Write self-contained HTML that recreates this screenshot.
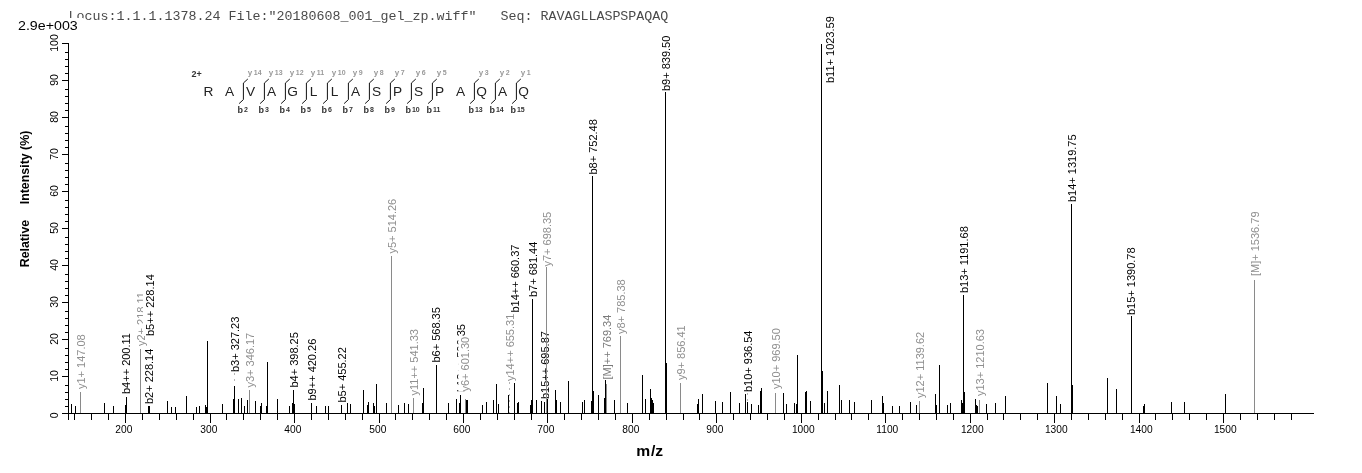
<!DOCTYPE html><html><head><meta charset="utf-8"><style>html,body{margin:0;padding:0;background:#fff;}svg{display:block;filter:grayscale(100%);}text{font-family:"Liberation Sans",sans-serif;}</style></head><body>
<svg width="1362" height="473" viewBox="0 0 1362 473">
<rect width="1362" height="473" fill="#fff"/>
<text x="68.5" y="20.4" style="font-family:'Liberation Mono',monospace;font-size:13.33px;white-space:pre" fill="#4a4a4a">Locus:1.1.1.1378.24 File:&quot;20180608_001_gel_zp.wiff&quot;   Seq: RAVAGLLASPSPAQAQ</text>
<rect x="15" y="18" width="68" height="14" fill="#fff"/>
<text x="18" y="29.8" font-size="12" textLength="59.7" lengthAdjust="spacingAndGlyphs" fill="#000">2.9e+003</text>
<g shape-rendering="crispEdges" stroke="#000" stroke-width="1" fill="none">
<line x1="68.5" y1="43" x2="68.5" y2="419.5"/>
<line x1="62" y1="413.5" x2="1314" y2="413.5"/>
<line x1="62" y1="413.5" x2="68" y2="413.5"/>
<line x1="65" y1="406.5" x2="68" y2="406.5"/>
<line x1="65" y1="399.5" x2="68" y2="399.5"/>
<line x1="65" y1="392.5" x2="68" y2="392.5"/>
<line x1="65" y1="385.5" x2="68" y2="385.5"/>
<line x1="62" y1="376.5" x2="68" y2="376.5"/>
<line x1="65" y1="369.5" x2="68" y2="369.5"/>
<line x1="65" y1="362.5" x2="68" y2="362.5"/>
<line x1="65" y1="355.5" x2="68" y2="355.5"/>
<line x1="65" y1="348.5" x2="68" y2="348.5"/>
<line x1="62" y1="339.5" x2="68" y2="339.5"/>
<line x1="65" y1="332.5" x2="68" y2="332.5"/>
<line x1="65" y1="325.5" x2="68" y2="325.5"/>
<line x1="65" y1="318.5" x2="68" y2="318.5"/>
<line x1="65" y1="311.5" x2="68" y2="311.5"/>
<line x1="62" y1="302.5" x2="68" y2="302.5"/>
<line x1="65" y1="295.5" x2="68" y2="295.5"/>
<line x1="65" y1="288.5" x2="68" y2="288.5"/>
<line x1="65" y1="281.5" x2="68" y2="281.5"/>
<line x1="65" y1="274.5" x2="68" y2="274.5"/>
<line x1="62" y1="265.5" x2="68" y2="265.5"/>
<line x1="65" y1="258.5" x2="68" y2="258.5"/>
<line x1="65" y1="251.5" x2="68" y2="251.5"/>
<line x1="65" y1="244.5" x2="68" y2="244.5"/>
<line x1="65" y1="237.5" x2="68" y2="237.5"/>
<line x1="62" y1="228.5" x2="68" y2="228.5"/>
<line x1="65" y1="221.5" x2="68" y2="221.5"/>
<line x1="65" y1="214.5" x2="68" y2="214.5"/>
<line x1="65" y1="207.5" x2="68" y2="207.5"/>
<line x1="65" y1="200.5" x2="68" y2="200.5"/>
<line x1="62" y1="191.5" x2="68" y2="191.5"/>
<line x1="65" y1="184.5" x2="68" y2="184.5"/>
<line x1="65" y1="177.5" x2="68" y2="177.5"/>
<line x1="65" y1="170.5" x2="68" y2="170.5"/>
<line x1="65" y1="163.5" x2="68" y2="163.5"/>
<line x1="62" y1="154.5" x2="68" y2="154.5"/>
<line x1="65" y1="147.5" x2="68" y2="147.5"/>
<line x1="65" y1="140.5" x2="68" y2="140.5"/>
<line x1="65" y1="133.5" x2="68" y2="133.5"/>
<line x1="65" y1="126.5" x2="68" y2="126.5"/>
<line x1="62" y1="117.5" x2="68" y2="117.5"/>
<line x1="65" y1="110.5" x2="68" y2="110.5"/>
<line x1="65" y1="103.5" x2="68" y2="103.5"/>
<line x1="65" y1="96.5" x2="68" y2="96.5"/>
<line x1="65" y1="89.5" x2="68" y2="89.5"/>
<line x1="62" y1="80.5" x2="68" y2="80.5"/>
<line x1="65" y1="73.5" x2="68" y2="73.5"/>
<line x1="65" y1="66.5" x2="68" y2="66.5"/>
<line x1="65" y1="59.5" x2="68" y2="59.5"/>
<line x1="65" y1="52.5" x2="68" y2="52.5"/>
<line x1="62" y1="43.5" x2="68" y2="43.5"/>
<line x1="74.5" y1="413" x2="74.5" y2="419.5"/>
<line x1="91.5" y1="413" x2="91.5" y2="419.5"/>
<line x1="108.5" y1="413" x2="108.5" y2="419.5"/>
<line x1="125.5" y1="413" x2="125.5" y2="422.5"/>
<line x1="142.5" y1="413" x2="142.5" y2="419.5"/>
<line x1="159.5" y1="413" x2="159.5" y2="419.5"/>
<line x1="176.5" y1="413" x2="176.5" y2="419.5"/>
<line x1="193.5" y1="413" x2="193.5" y2="419.5"/>
<line x1="210.5" y1="413" x2="210.5" y2="422.5"/>
<line x1="226.5" y1="413" x2="226.5" y2="419.5"/>
<line x1="243.5" y1="413" x2="243.5" y2="419.5"/>
<line x1="260.5" y1="413" x2="260.5" y2="419.5"/>
<line x1="277.5" y1="413" x2="277.5" y2="419.5"/>
<line x1="294.5" y1="413" x2="294.5" y2="422.5"/>
<line x1="311.5" y1="413" x2="311.5" y2="419.5"/>
<line x1="328.5" y1="413" x2="328.5" y2="419.5"/>
<line x1="345.5" y1="413" x2="345.5" y2="419.5"/>
<line x1="362.5" y1="413" x2="362.5" y2="419.5"/>
<line x1="379.5" y1="413" x2="379.5" y2="422.5"/>
<line x1="395.5" y1="413" x2="395.5" y2="419.5"/>
<line x1="412.5" y1="413" x2="412.5" y2="419.5"/>
<line x1="429.5" y1="413" x2="429.5" y2="419.5"/>
<line x1="446.5" y1="413" x2="446.5" y2="419.5"/>
<line x1="463.5" y1="413" x2="463.5" y2="422.5"/>
<line x1="480.5" y1="413" x2="480.5" y2="419.5"/>
<line x1="497.5" y1="413" x2="497.5" y2="419.5"/>
<line x1="514.5" y1="413" x2="514.5" y2="419.5"/>
<line x1="531.5" y1="413" x2="531.5" y2="419.5"/>
<line x1="547.5" y1="413" x2="547.5" y2="422.5"/>
<line x1="564.5" y1="413" x2="564.5" y2="419.5"/>
<line x1="581.5" y1="413" x2="581.5" y2="419.5"/>
<line x1="598.5" y1="413" x2="598.5" y2="419.5"/>
<line x1="615.5" y1="413" x2="615.5" y2="419.5"/>
<line x1="632.5" y1="413" x2="632.5" y2="422.5"/>
<line x1="649.5" y1="413" x2="649.5" y2="419.5"/>
<line x1="666.5" y1="413" x2="666.5" y2="419.5"/>
<line x1="683.5" y1="413" x2="683.5" y2="419.5"/>
<line x1="699.5" y1="413" x2="699.5" y2="419.5"/>
<line x1="716.5" y1="413" x2="716.5" y2="422.5"/>
<line x1="733.5" y1="413" x2="733.5" y2="419.5"/>
<line x1="750.5" y1="413" x2="750.5" y2="419.5"/>
<line x1="767.5" y1="413" x2="767.5" y2="419.5"/>
<line x1="784.5" y1="413" x2="784.5" y2="419.5"/>
<line x1="801.5" y1="413" x2="801.5" y2="422.5"/>
<line x1="818.5" y1="413" x2="818.5" y2="419.5"/>
<line x1="835.5" y1="413" x2="835.5" y2="419.5"/>
<line x1="851.5" y1="413" x2="851.5" y2="419.5"/>
<line x1="868.5" y1="413" x2="868.5" y2="419.5"/>
<line x1="885.5" y1="413" x2="885.5" y2="422.5"/>
<line x1="902.5" y1="413" x2="902.5" y2="419.5"/>
<line x1="919.5" y1="413" x2="919.5" y2="419.5"/>
<line x1="936.5" y1="413" x2="936.5" y2="419.5"/>
<line x1="953.5" y1="413" x2="953.5" y2="419.5"/>
<line x1="970.5" y1="413" x2="970.5" y2="422.5"/>
<line x1="987.5" y1="413" x2="987.5" y2="419.5"/>
<line x1="1003.5" y1="413" x2="1003.5" y2="419.5"/>
<line x1="1020.5" y1="413" x2="1020.5" y2="419.5"/>
<line x1="1037.5" y1="413" x2="1037.5" y2="419.5"/>
<line x1="1054.5" y1="413" x2="1054.5" y2="422.5"/>
<line x1="1071.5" y1="413" x2="1071.5" y2="419.5"/>
<line x1="1088.5" y1="413" x2="1088.5" y2="419.5"/>
<line x1="1105.5" y1="413" x2="1105.5" y2="419.5"/>
<line x1="1122.5" y1="413" x2="1122.5" y2="419.5"/>
<line x1="1139.5" y1="413" x2="1139.5" y2="422.5"/>
<line x1="1155.5" y1="413" x2="1155.5" y2="419.5"/>
<line x1="1172.5" y1="413" x2="1172.5" y2="419.5"/>
<line x1="1189.5" y1="413" x2="1189.5" y2="419.5"/>
<line x1="1206.5" y1="413" x2="1206.5" y2="419.5"/>
<line x1="1223.5" y1="413" x2="1223.5" y2="422.5"/>
<line x1="1240.5" y1="413" x2="1240.5" y2="419.5"/>
<line x1="1257.5" y1="413" x2="1257.5" y2="419.5"/>
<line x1="1274.5" y1="413" x2="1274.5" y2="419.5"/>
<line x1="1291.5" y1="413" x2="1291.5" y2="419.5"/>
</g>
<text transform="translate(57.6,415.3) rotate(-90)" font-size="10.5" text-anchor="middle" fill="#000">0</text>
<text transform="translate(57.6,376.0) rotate(-90)" font-size="10.5" text-anchor="middle" fill="#000">10</text>
<text transform="translate(57.6,339.0) rotate(-90)" font-size="10.5" text-anchor="middle" fill="#000">20</text>
<text transform="translate(57.6,302.0) rotate(-90)" font-size="10.5" text-anchor="middle" fill="#000">30</text>
<text transform="translate(57.6,265.0) rotate(-90)" font-size="10.5" text-anchor="middle" fill="#000">40</text>
<text transform="translate(57.6,228.0) rotate(-90)" font-size="10.5" text-anchor="middle" fill="#000">50</text>
<text transform="translate(57.6,191.0) rotate(-90)" font-size="10.5" text-anchor="middle" fill="#000">60</text>
<text transform="translate(57.6,154.0) rotate(-90)" font-size="10.5" text-anchor="middle" fill="#000">70</text>
<text transform="translate(57.6,117.0) rotate(-90)" font-size="10.5" text-anchor="middle" fill="#000">80</text>
<text transform="translate(57.6,80.0) rotate(-90)" font-size="10.5" text-anchor="middle" fill="#000">90</text>
<text transform="translate(57.6,43.0) rotate(-90)" font-size="10.5" text-anchor="middle" fill="#000">100</text>
<text x="123.8" y="433.2" font-size="10.2" text-anchor="middle" fill="#000">200</text>
<text x="208.8" y="433.2" font-size="10.2" text-anchor="middle" fill="#000">300</text>
<text x="292.8" y="433.2" font-size="10.2" text-anchor="middle" fill="#000">400</text>
<text x="377.8" y="433.2" font-size="10.2" text-anchor="middle" fill="#000">500</text>
<text x="461.8" y="433.2" font-size="10.2" text-anchor="middle" fill="#000">600</text>
<text x="545.8" y="433.2" font-size="10.2" text-anchor="middle" fill="#000">700</text>
<text x="630.8" y="433.2" font-size="10.2" text-anchor="middle" fill="#000">800</text>
<text x="714.8" y="433.2" font-size="10.2" text-anchor="middle" fill="#000">900</text>
<text x="803.3" y="433.2" font-size="10.2" text-anchor="middle" fill="#000">1000</text>
<text x="887.3" y="433.2" font-size="10.2" text-anchor="middle" fill="#000">1100</text>
<text x="972.3" y="433.2" font-size="10.2" text-anchor="middle" fill="#000">1200</text>
<text x="1056.3" y="433.2" font-size="10.2" text-anchor="middle" fill="#000">1300</text>
<text x="1141.3" y="433.2" font-size="10.2" text-anchor="middle" fill="#000">1400</text>
<text x="1225.3" y="433.2" font-size="10.2" text-anchor="middle" fill="#000">1500</text>
<text transform="translate(636.2,456.2) scale(1.12,1)" font-size="14" font-weight="bold" fill="#000">m</text><text transform="translate(651,456.2) scale(1.12,1)" font-size="14" font-weight="bold" fill="#000">/z</text>
<text transform="translate(28.6,267.3) rotate(-90)" font-size="12.4" font-weight="bold" fill="#000">Relative</text>
<text transform="translate(28.6,130.6) rotate(-90)" font-size="12.4" font-weight="bold" text-anchor="end" fill="#000">Intensity (%)</text>
<g shape-rendering="crispEdges" stroke-width="1">
<line x1="71.5" y1="404.0" x2="71.5" y2="413" stroke="#000"/>
<line x1="75.5" y1="406.0" x2="75.5" y2="413" stroke="#000"/>
<line x1="104.5" y1="403.0" x2="104.5" y2="413" stroke="#000"/>
<line x1="113.5" y1="406.0" x2="113.5" y2="413" stroke="#000"/>
<line x1="125.5" y1="404.5" x2="125.5" y2="413" stroke="#000"/>
<line x1="167.5" y1="401.0" x2="167.5" y2="413" stroke="#000"/>
<line x1="171.5" y1="407.0" x2="171.5" y2="413" stroke="#000"/>
<line x1="175.5" y1="407.0" x2="175.5" y2="413" stroke="#000"/>
<line x1="186.5" y1="396.4" x2="186.5" y2="413" stroke="#000"/>
<line x1="196.5" y1="407.0" x2="196.5" y2="413" stroke="#000"/>
<line x1="199.5" y1="406.0" x2="199.5" y2="413" stroke="#000"/>
<line x1="205.5" y1="404.5" x2="205.5" y2="413" stroke="#000"/>
<line x1="206.5" y1="407.3" x2="206.5" y2="413" stroke="#000"/>
<line x1="207.5" y1="341.0" x2="207.5" y2="413" stroke="#000"/>
<line x1="222.5" y1="404.0" x2="222.5" y2="413" stroke="#000"/>
<line x1="233.5" y1="399.0" x2="233.5" y2="413" stroke="#000"/>
<line x1="238.5" y1="399.0" x2="238.5" y2="413" stroke="#000"/>
<line x1="241.5" y1="398.0" x2="241.5" y2="413" stroke="#000"/>
<line x1="244.5" y1="406.0" x2="244.5" y2="413" stroke="#000"/>
<line x1="247.5" y1="400.0" x2="247.5" y2="413" stroke="#000"/>
<line x1="255.5" y1="401.0" x2="255.5" y2="413" stroke="#000"/>
<line x1="260.5" y1="406.0" x2="260.5" y2="413" stroke="#000"/>
<line x1="261.5" y1="403.0" x2="261.5" y2="413" stroke="#000"/>
<line x1="266.5" y1="406.0" x2="266.5" y2="413" stroke="#000"/>
<line x1="267.5" y1="362.0" x2="267.5" y2="413" stroke="#000"/>
<line x1="277.5" y1="399.0" x2="277.5" y2="413" stroke="#000"/>
<line x1="289.5" y1="406.0" x2="289.5" y2="413" stroke="#000"/>
<line x1="292.5" y1="402.7" x2="292.5" y2="413" stroke="#000"/>
<line x1="294.5" y1="404.0" x2="294.5" y2="413" stroke="#000"/>
<line x1="316.5" y1="406.0" x2="316.5" y2="413" stroke="#000"/>
<line x1="325.5" y1="406.0" x2="325.5" y2="413" stroke="#000"/>
<line x1="328.5" y1="406.0" x2="328.5" y2="413" stroke="#000"/>
<line x1="347.5" y1="402.7" x2="347.5" y2="413" stroke="#000"/>
<line x1="350.5" y1="404.0" x2="350.5" y2="413" stroke="#000"/>
<line x1="363.5" y1="390.0" x2="363.5" y2="413" stroke="#000"/>
<line x1="367.5" y1="405.0" x2="367.5" y2="413" stroke="#000"/>
<line x1="368.5" y1="402.2" x2="368.5" y2="413" stroke="#000"/>
<line x1="373.5" y1="403.0" x2="373.5" y2="413" stroke="#000"/>
<line x1="374.5" y1="406.0" x2="374.5" y2="413" stroke="#000"/>
<line x1="376.5" y1="384.0" x2="376.5" y2="413" stroke="#000"/>
<line x1="386.5" y1="403.0" x2="386.5" y2="413" stroke="#000"/>
<line x1="398.5" y1="405.0" x2="398.5" y2="413" stroke="#000"/>
<line x1="404.5" y1="403.0" x2="404.5" y2="413" stroke="#000"/>
<line x1="408.5" y1="404.0" x2="408.5" y2="413" stroke="#000"/>
<line x1="422.5" y1="403.0" x2="422.5" y2="413" stroke="#000"/>
<line x1="423.5" y1="388.0" x2="423.5" y2="413" stroke="#000"/>
<line x1="448.5" y1="403.0" x2="448.5" y2="413" stroke="#000"/>
<line x1="456.5" y1="399.0" x2="456.5" y2="413" stroke="#000"/>
<line x1="459.5" y1="403.0" x2="459.5" y2="413" stroke="#000"/>
<line x1="466.5" y1="400.0" x2="466.5" y2="413" stroke="#000"/>
<line x1="467.5" y1="400.0" x2="467.5" y2="413" stroke="#000"/>
<line x1="482.5" y1="405.0" x2="482.5" y2="413" stroke="#000"/>
<line x1="486.5" y1="402.0" x2="486.5" y2="413" stroke="#000"/>
<line x1="493.5" y1="400.0" x2="493.5" y2="413" stroke="#000"/>
<line x1="496.5" y1="384.0" x2="496.5" y2="413" stroke="#000"/>
<line x1="498.5" y1="404.0" x2="498.5" y2="413" stroke="#000"/>
<line x1="508.5" y1="395.0" x2="508.5" y2="413" stroke="#000"/>
<line x1="517.5" y1="402.7" x2="517.5" y2="413" stroke="#000"/>
<line x1="518.5" y1="402.0" x2="518.5" y2="413" stroke="#000"/>
<line x1="530.5" y1="405.0" x2="530.5" y2="413" stroke="#000"/>
<line x1="531.5" y1="400.0" x2="531.5" y2="413" stroke="#000"/>
<line x1="536.5" y1="400.0" x2="536.5" y2="413" stroke="#000"/>
<line x1="541.5" y1="401.0" x2="541.5" y2="413" stroke="#000"/>
<line x1="547.5" y1="398.7" x2="547.5" y2="413" stroke="#000"/>
<line x1="555.5" y1="390.0" x2="555.5" y2="413" stroke="#000"/>
<line x1="556.5" y1="400.0" x2="556.5" y2="413" stroke="#000"/>
<line x1="560.5" y1="402.0" x2="560.5" y2="413" stroke="#000"/>
<line x1="568.5" y1="381.3" x2="568.5" y2="413" stroke="#000"/>
<line x1="582.5" y1="402.0" x2="582.5" y2="413" stroke="#000"/>
<line x1="584.5" y1="400.0" x2="584.5" y2="413" stroke="#000"/>
<line x1="591.5" y1="401.0" x2="591.5" y2="413" stroke="#000"/>
<line x1="593.5" y1="391.0" x2="593.5" y2="413" stroke="#000"/>
<line x1="598.5" y1="395.0" x2="598.5" y2="413" stroke="#000"/>
<line x1="604.5" y1="398.0" x2="604.5" y2="413" stroke="#000"/>
<line x1="605.5" y1="380.0" x2="605.5" y2="413" stroke="#000"/>
<line x1="614.5" y1="400.0" x2="614.5" y2="413" stroke="#000"/>
<line x1="627.5" y1="403.0" x2="627.5" y2="413" stroke="#000"/>
<line x1="642.5" y1="375.0" x2="642.5" y2="413" stroke="#000"/>
<line x1="645.5" y1="399.0" x2="645.5" y2="413" stroke="#000"/>
<line x1="650.5" y1="389.0" x2="650.5" y2="413" stroke="#000"/>
<line x1="651.5" y1="397.6" x2="651.5" y2="413" stroke="#000"/>
<line x1="652.5" y1="400.0" x2="652.5" y2="413" stroke="#000"/>
<line x1="653.5" y1="402.7" x2="653.5" y2="413" stroke="#000"/>
<line x1="666.5" y1="363.0" x2="666.5" y2="413" stroke="#000"/>
<line x1="697.5" y1="404.0" x2="697.5" y2="413" stroke="#000"/>
<line x1="698.5" y1="399.0" x2="698.5" y2="413" stroke="#000"/>
<line x1="702.5" y1="394.0" x2="702.5" y2="413" stroke="#000"/>
<line x1="715.5" y1="401.0" x2="715.5" y2="413" stroke="#000"/>
<line x1="722.5" y1="402.0" x2="722.5" y2="413" stroke="#000"/>
<line x1="730.5" y1="392.0" x2="730.5" y2="413" stroke="#000"/>
<line x1="739.5" y1="403.0" x2="739.5" y2="413" stroke="#000"/>
<line x1="745.5" y1="394.0" x2="745.5" y2="413" stroke="#000"/>
<line x1="751.5" y1="404.0" x2="751.5" y2="413" stroke="#000"/>
<line x1="758.5" y1="405.0" x2="758.5" y2="413" stroke="#000"/>
<line x1="760.5" y1="391.0" x2="760.5" y2="413" stroke="#000"/>
<line x1="761.5" y1="388.0" x2="761.5" y2="413" stroke="#000"/>
<line x1="783.5" y1="393.0" x2="783.5" y2="413" stroke="#000"/>
<line x1="786.5" y1="404.0" x2="786.5" y2="413" stroke="#000"/>
<line x1="794.5" y1="403.0" x2="794.5" y2="413" stroke="#000"/>
<line x1="796.5" y1="404.0" x2="796.5" y2="413" stroke="#000"/>
<line x1="797.5" y1="355.0" x2="797.5" y2="413" stroke="#000"/>
<line x1="805.5" y1="392.0" x2="805.5" y2="413" stroke="#000"/>
<line x1="806.5" y1="391.0" x2="806.5" y2="413" stroke="#000"/>
<line x1="810.5" y1="401.0" x2="810.5" y2="413" stroke="#000"/>
<line x1="822.5" y1="371.0" x2="822.5" y2="413" stroke="#000"/>
<line x1="824.5" y1="403.0" x2="824.5" y2="413" stroke="#000"/>
<line x1="827.5" y1="391.0" x2="827.5" y2="413" stroke="#000"/>
<line x1="839.5" y1="385.0" x2="839.5" y2="413" stroke="#000"/>
<line x1="841.5" y1="400.0" x2="841.5" y2="413" stroke="#000"/>
<line x1="849.5" y1="400.0" x2="849.5" y2="413" stroke="#000"/>
<line x1="854.5" y1="402.0" x2="854.5" y2="413" stroke="#000"/>
<line x1="871.5" y1="400.0" x2="871.5" y2="413" stroke="#000"/>
<line x1="882.5" y1="396.0" x2="882.5" y2="413" stroke="#000"/>
<line x1="883.5" y1="403.0" x2="883.5" y2="413" stroke="#000"/>
<line x1="892.5" y1="406.0" x2="892.5" y2="413" stroke="#000"/>
<line x1="899.5" y1="406.0" x2="899.5" y2="413" stroke="#000"/>
<line x1="910.5" y1="402.0" x2="910.5" y2="413" stroke="#000"/>
<line x1="916.5" y1="405.0" x2="916.5" y2="413" stroke="#000"/>
<line x1="935.5" y1="394.0" x2="935.5" y2="413" stroke="#000"/>
<line x1="936.5" y1="405.0" x2="936.5" y2="413" stroke="#000"/>
<line x1="939.5" y1="365.0" x2="939.5" y2="413" stroke="#000"/>
<line x1="947.5" y1="405.0" x2="947.5" y2="413" stroke="#000"/>
<line x1="950.5" y1="403.0" x2="950.5" y2="413" stroke="#000"/>
<line x1="961.5" y1="400.0" x2="961.5" y2="413" stroke="#000"/>
<line x1="962.5" y1="402.7" x2="962.5" y2="413" stroke="#000"/>
<line x1="964.5" y1="392.0" x2="964.5" y2="413" stroke="#000"/>
<line x1="975.5" y1="399.0" x2="975.5" y2="413" stroke="#000"/>
<line x1="976.5" y1="405.0" x2="976.5" y2="413" stroke="#000"/>
<line x1="977.5" y1="406.0" x2="977.5" y2="413" stroke="#000"/>
<line x1="986.5" y1="404.0" x2="986.5" y2="413" stroke="#000"/>
<line x1="995.5" y1="403.0" x2="995.5" y2="413" stroke="#000"/>
<line x1="1005.5" y1="396.0" x2="1005.5" y2="413" stroke="#000"/>
<line x1="1047.5" y1="383.0" x2="1047.5" y2="413" stroke="#000"/>
<line x1="1056.5" y1="396.0" x2="1056.5" y2="413" stroke="#000"/>
<line x1="1060.5" y1="404.0" x2="1060.5" y2="413" stroke="#000"/>
<line x1="1072.5" y1="385.0" x2="1072.5" y2="413" stroke="#000"/>
<line x1="1107.5" y1="378.0" x2="1107.5" y2="413" stroke="#000"/>
<line x1="1116.5" y1="389.0" x2="1116.5" y2="413" stroke="#000"/>
<line x1="1143.5" y1="406.0" x2="1143.5" y2="413" stroke="#000"/>
<line x1="1144.5" y1="404.0" x2="1144.5" y2="413" stroke="#000"/>
<line x1="1171.5" y1="402.0" x2="1171.5" y2="413" stroke="#000"/>
<line x1="1184.5" y1="402.0" x2="1184.5" y2="413" stroke="#000"/>
<line x1="1225.5" y1="394.2" x2="1225.5" y2="413" stroke="#000"/>
<line x1="80.5" y1="392.2" x2="80.5" y2="413" stroke="#8a8a8a"/>
<line x1="126.5" y1="397.3" x2="126.5" y2="413" stroke="#000"/>
<line x1="140.5" y1="349.0" x2="140.5" y2="413" stroke="#8a8a8a"/>
<line x1="148.5" y1="406.4" x2="148.5" y2="413" stroke="#000"/>
<line x1="149.5" y1="406.4" x2="149.5" y2="413" stroke="#000"/>
<line x1="234.5" y1="386.4" x2="234.5" y2="413" stroke="#000"/>
<line x1="249.5" y1="390.0" x2="249.5" y2="413" stroke="#8a8a8a"/>
<line x1="293.5" y1="390.0" x2="293.5" y2="413" stroke="#000"/>
<line x1="311.5" y1="403.0" x2="311.5" y2="413" stroke="#000"/>
<line x1="341.5" y1="405.0" x2="341.5" y2="413" stroke="#000"/>
<line x1="391.5" y1="256.0" x2="391.5" y2="413" stroke="#8a8a8a"/>
<line x1="413.5" y1="398.0" x2="413.5" y2="413" stroke="#8a8a8a"/>
<line x1="436.5" y1="365.0" x2="436.5" y2="413" stroke="#000"/>
<line x1="460.5" y1="395.0" x2="460.5" y2="413" stroke="#000"/>
<line x1="465.5" y1="399.0" x2="465.5" y2="413" stroke="#8a8a8a"/>
<line x1="509.5" y1="413.0" x2="509.5" y2="413" stroke="#8a8a8a"/>
<line x1="514.5" y1="383.0" x2="514.5" y2="413" stroke="#000"/>
<line x1="532.5" y1="299.0" x2="532.5" y2="413" stroke="#000"/>
<line x1="544.5" y1="402.0" x2="544.5" y2="413" stroke="#000"/>
<line x1="546.5" y1="267.4" x2="546.5" y2="413" stroke="#8a8a8a"/>
<line x1="592.5" y1="176.0" x2="592.5" y2="413" stroke="#000"/>
<line x1="606.5" y1="384.0" x2="606.5" y2="413" stroke="#8a8a8a"/>
<line x1="620.5" y1="336.4" x2="620.5" y2="413" stroke="#8a8a8a"/>
<line x1="665.5" y1="92.4" x2="665.5" y2="413" stroke="#000"/>
<line x1="680.5" y1="383.0" x2="680.5" y2="413" stroke="#8a8a8a"/>
<line x1="747.5" y1="402.0" x2="747.5" y2="413" stroke="#000"/>
<line x1="775.5" y1="393.0" x2="775.5" y2="413" stroke="#8a8a8a"/>
<line x1="821.5" y1="43.5" x2="821.5" y2="413" stroke="#000"/>
<line x1="919.5" y1="401.0" x2="919.5" y2="413" stroke="#8a8a8a"/>
<line x1="963.5" y1="295.3" x2="963.5" y2="413" stroke="#000"/>
<line x1="979.5" y1="400.0" x2="979.5" y2="413" stroke="#8a8a8a"/>
<line x1="1071.5" y1="204.0" x2="1071.5" y2="413" stroke="#000"/>
<line x1="1131.5" y1="315.6" x2="1131.5" y2="413" stroke="#000"/>
<line x1="1254.5" y1="279.6" x2="1254.5" y2="413" stroke="#8a8a8a"/>
</g>
<g transform="translate(84.8,389.0) rotate(-90)"><rect x="0" y="-10.96" width="54.74" height="14.29" fill="#fff"/><text font-size="11.4" textLength="54.74" lengthAdjust="spacingAndGlyphs" fill="#8f8f8f">y1+ 147.08</text></g>
<g transform="translate(130.3,394.0) rotate(-90)"><rect x="0" y="-10.96" width="60.96" height="14.29" fill="#fff"/><text font-size="11.4" textLength="60.96" lengthAdjust="spacingAndGlyphs" fill="#000">b4++ 200.11</text></g>
<g transform="translate(144.8,346.0) rotate(-90)"><rect x="0" y="-10.96" width="53.92" height="14.29" fill="#fff"/><text font-size="11.4" textLength="53.92" lengthAdjust="spacingAndGlyphs" fill="#8f8f8f">y2+ 218.11</text></g>
<g transform="translate(153.0,404.0) rotate(-90)"><rect x="0" y="-10.96" width="55.36" height="14.29" fill="#fff"/><text font-size="11.4" textLength="55.36" lengthAdjust="spacingAndGlyphs" fill="#000">b2+ 228.14</text></g>
<g transform="translate(153.9,336.0) rotate(-90)"><rect x="0" y="-10.96" width="61.78" height="14.29" fill="#fff"/><text font-size="11.4" textLength="61.78" lengthAdjust="spacingAndGlyphs" fill="#000">b5++ 228.14</text></g>
<line x1="234.5" y1="373" x2="234.5" y2="385" stroke="#b4b4b4" stroke-dasharray="2,4" shape-rendering="crispEdges"/>
<g transform="translate(238.5,372.0) rotate(-90)"><rect x="0" y="-10.96" width="55.36" height="14.29" fill="#fff"/><text font-size="11.4" textLength="55.36" lengthAdjust="spacingAndGlyphs" fill="#000">b3+ 327.23</text></g>
<g transform="translate(253.8,387.5) rotate(-90)"><rect x="0" y="-10.96" width="54.74" height="14.29" fill="#fff"/><text font-size="11.4" textLength="54.74" lengthAdjust="spacingAndGlyphs" fill="#8f8f8f">y3+ 346.17</text></g>
<g transform="translate(297.8,387.5) rotate(-90)"><rect x="0" y="-10.96" width="55.36" height="14.29" fill="#fff"/><text font-size="11.4" textLength="55.36" lengthAdjust="spacingAndGlyphs" fill="#000">b4+ 398.25</text></g>
<g transform="translate(315.8,400.5) rotate(-90)"><rect x="0" y="-10.96" width="61.78" height="14.29" fill="#fff"/><text font-size="11.4" textLength="61.78" lengthAdjust="spacingAndGlyphs" fill="#000">b9++ 420.26</text></g>
<g transform="translate(345.8,402.5) rotate(-90)"><rect x="0" y="-10.96" width="55.36" height="14.29" fill="#fff"/><text font-size="11.4" textLength="55.36" lengthAdjust="spacingAndGlyphs" fill="#000">b5+ 455.22</text></g>
<g transform="translate(395.9,253.5) rotate(-90)"><rect x="0" y="-10.96" width="54.74" height="14.29" fill="#fff"/><text font-size="11.4" textLength="54.74" lengthAdjust="spacingAndGlyphs" fill="#8f8f8f">y5+ 514.26</text></g>
<g transform="translate(417.8,395.5) rotate(-90)"><rect x="0" y="-10.96" width="66.46" height="14.29" fill="#fff"/><text font-size="11.4" textLength="66.46" lengthAdjust="spacingAndGlyphs" fill="#8f8f8f">y11++ 541.33</text></g>
<g transform="translate(440.3,362.5) rotate(-90)"><rect x="0" y="-10.96" width="55.36" height="14.29" fill="#fff"/><text font-size="11.4" textLength="55.36" lengthAdjust="spacingAndGlyphs" fill="#000">b6+ 568.35</text></g>
<g transform="translate(464.8,392.0) rotate(-90)"><rect x="0" y="-10.96" width="67.90" height="14.29" fill="#fff"/><text font-size="11.4" textLength="67.90" lengthAdjust="spacingAndGlyphs" fill="#000">b13++ 596.35</text></g>
<g transform="translate(469.3,391.5) rotate(-90)"><rect x="0" y="-10.96" width="54.74" height="14.29" fill="#fff"/><text font-size="11.4" textLength="54.74" lengthAdjust="spacingAndGlyphs" fill="#8f8f8f">y6+ 601.30</text></g>
<line x1="509.5" y1="382" x2="509.5" y2="413" stroke="#b4b4b4" stroke-dasharray="2,4" shape-rendering="crispEdges"/>
<g transform="translate(513.9,381.0) rotate(-90)"><rect x="0" y="-10.96" width="67.28" height="14.29" fill="#fff"/><text font-size="11.4" textLength="67.28" lengthAdjust="spacingAndGlyphs" fill="#8f8f8f">y14++ 655.31</text></g>
<g transform="translate(519.3,312.5) rotate(-90)"><rect x="0" y="-10.96" width="67.90" height="14.29" fill="#fff"/><text font-size="11.4" textLength="67.90" lengthAdjust="spacingAndGlyphs" fill="#000">b14++ 660.37</text></g>
<g transform="translate(536.8,297.0) rotate(-90)"><rect x="0" y="-10.96" width="55.36" height="14.29" fill="#fff"/><text font-size="11.4" textLength="55.36" lengthAdjust="spacingAndGlyphs" fill="#000">b7+ 681.44</text></g>
<g transform="translate(548.8,399.0) rotate(-90)"><rect x="0" y="-10.96" width="67.90" height="14.29" fill="#fff"/><text font-size="11.4" textLength="67.90" lengthAdjust="spacingAndGlyphs" fill="#000">b15++ 695.87</text></g>
<g transform="translate(550.9,266.5) rotate(-90)"><rect x="0" y="-10.96" width="54.74" height="14.29" fill="#fff"/><text font-size="11.4" textLength="54.74" lengthAdjust="spacingAndGlyphs" fill="#8f8f8f">y7+ 698.35</text></g>
<g transform="translate(597.1,174.5) rotate(-90)"><rect x="0" y="-10.96" width="55.36" height="14.29" fill="#fff"/><text font-size="11.4" textLength="55.36" lengthAdjust="spacingAndGlyphs" fill="#000">b8+ 752.48</text></g>
<g transform="translate(610.6,379.5) rotate(-90)"><rect x="0" y="-10.96" width="64.82" height="14.29" fill="#fff"/><text font-size="11.4" textLength="64.82" lengthAdjust="spacingAndGlyphs" fill="#7a7a7a">[M]++ 769.34</text></g>
<g transform="translate(624.6,334.0) rotate(-90)"><rect x="0" y="-10.96" width="54.74" height="14.29" fill="#fff"/><text font-size="11.4" textLength="54.74" lengthAdjust="spacingAndGlyphs" fill="#8f8f8f">y8+ 785.38</text></g>
<g transform="translate(669.8,91.0) rotate(-90)"><rect x="0" y="-10.96" width="55.36" height="14.29" fill="#fff"/><text font-size="11.4" textLength="55.36" lengthAdjust="spacingAndGlyphs" fill="#000">b9+ 839.50</text></g>
<g transform="translate(684.8,380.0) rotate(-90)"><rect x="0" y="-10.96" width="54.74" height="14.29" fill="#fff"/><text font-size="11.4" textLength="54.74" lengthAdjust="spacingAndGlyphs" fill="#8f8f8f">y9+ 856.41</text></g>
<line x1="747.5" y1="393" x2="747.5" y2="402" stroke="#b4b4b4" stroke-dasharray="2,4" shape-rendering="crispEdges"/>
<g transform="translate(751.8,392.0) rotate(-90)"><rect x="0" y="-10.96" width="61.47" height="14.29" fill="#fff"/><text font-size="11.4" textLength="61.47" lengthAdjust="spacingAndGlyphs" fill="#000">b10+ 936.54</text></g>
<g transform="translate(779.7,389.0) rotate(-90)"><rect x="0" y="-10.96" width="60.86" height="14.29" fill="#fff"/><text font-size="11.4" textLength="60.86" lengthAdjust="spacingAndGlyphs" fill="#8f8f8f">y10+ 969.50</text></g>
<g transform="translate(833.8,83.0) rotate(-90)"><rect x="0" y="-10.96" width="66.77" height="14.29" fill="#fff"/><text font-size="11.4" textLength="66.77" lengthAdjust="spacingAndGlyphs" fill="#000">b11+ 1023.59</text></g>
<g transform="translate(923.6,398.0) rotate(-90)"><rect x="0" y="-10.96" width="66.16" height="14.29" fill="#fff"/><text font-size="11.4" textLength="66.16" lengthAdjust="spacingAndGlyphs" fill="#8f8f8f">y12+ 1139.62</text></g>
<g transform="translate(967.5,293.0) rotate(-90)"><rect x="0" y="-10.96" width="66.77" height="14.29" fill="#fff"/><text font-size="11.4" textLength="66.77" lengthAdjust="spacingAndGlyphs" fill="#000">b13+ 1191.68</text></g>
<g transform="translate(983.8,396.0) rotate(-90)"><rect x="0" y="-10.96" width="66.97" height="14.29" fill="#fff"/><text font-size="11.4" textLength="66.97" lengthAdjust="spacingAndGlyphs" fill="#8f8f8f">y13+ 1210.63</text></g>
<g transform="translate(1075.8,202.0) rotate(-90)"><rect x="0" y="-10.96" width="67.59" height="14.29" fill="#fff"/><text font-size="11.4" textLength="67.59" lengthAdjust="spacingAndGlyphs" fill="#000">b14+ 1319.75</text></g>
<g transform="translate(1135.3,315.0) rotate(-90)"><rect x="0" y="-10.96" width="67.59" height="14.29" fill="#fff"/><text font-size="11.4" textLength="67.59" lengthAdjust="spacingAndGlyphs" fill="#000">b15+ 1390.78</text></g>
<g transform="translate(1258.8,276.0) rotate(-90)"><rect x="0" y="-10.96" width="64.51" height="14.29" fill="#fff"/><text font-size="11.4" textLength="64.51" lengthAdjust="spacingAndGlyphs" fill="#8f8f8f">[M]+ 1536.79</text></g>
<line x1="546.5" y1="267.4" x2="546.5" y2="413" stroke="#8a8a8a" shape-rendering="crispEdges"/>
<text x="191.5" y="76.8" font-size="9" font-weight="bold" fill="#333">2+</text>
<text x="208.5" y="95.7" font-size="13.7" text-anchor="middle" fill="#222">R</text>
<text x="229.5" y="95.7" font-size="13.7" text-anchor="middle" fill="#222">A</text>
<text x="250.5" y="95.7" font-size="13.7" text-anchor="middle" fill="#222">V</text>
<text x="271.5" y="95.7" font-size="13.7" text-anchor="middle" fill="#222">A</text>
<text x="292.5" y="95.7" font-size="13.7" text-anchor="middle" fill="#222">G</text>
<text x="313.5" y="95.7" font-size="13.7" text-anchor="middle" fill="#222">L</text>
<text x="334.5" y="95.7" font-size="13.7" text-anchor="middle" fill="#222">L</text>
<text x="355.5" y="95.7" font-size="13.7" text-anchor="middle" fill="#222">A</text>
<text x="376.5" y="95.7" font-size="13.7" text-anchor="middle" fill="#222">S</text>
<text x="397.5" y="95.7" font-size="13.7" text-anchor="middle" fill="#222">P</text>
<text x="418.5" y="95.7" font-size="13.7" text-anchor="middle" fill="#222">S</text>
<text x="439.5" y="95.7" font-size="13.7" text-anchor="middle" fill="#222">P</text>
<text x="460.5" y="95.7" font-size="13.7" text-anchor="middle" fill="#222">A</text>
<text x="481.5" y="95.7" font-size="13.7" text-anchor="middle" fill="#222">Q</text>
<text x="502.5" y="95.7" font-size="13.7" text-anchor="middle" fill="#222">A</text>
<text x="523.5" y="95.7" font-size="13.7" text-anchor="middle" fill="#222">Q</text>
<path d="M247.8,79 L243.4,83 L243.4,99.6 L239.1,103.6" stroke="#111" stroke-width="1" fill="none"/>
<text x="247.7" y="74.9" font-size="8" font-weight="bold" fill="#999">y</text><text x="253.8" y="74.9" font-size="7" font-weight="bold" fill="#999">14</text>
<text x="237.6" y="112.7" font-size="9" font-weight="bold" fill="#333">b</text><text x="243.9" y="111.8" font-size="7" font-weight="bold" fill="#333">2</text>
<path d="M268.8,79 L264.4,83 L264.4,99.6 L260.1,103.6" stroke="#111" stroke-width="1" fill="none"/>
<text x="268.7" y="74.9" font-size="8" font-weight="bold" fill="#999">y</text><text x="274.8" y="74.9" font-size="7" font-weight="bold" fill="#999">13</text>
<text x="258.6" y="112.7" font-size="9" font-weight="bold" fill="#333">b</text><text x="264.9" y="111.8" font-size="7" font-weight="bold" fill="#333">3</text>
<path d="M289.8,79 L285.4,83 L285.4,99.6 L281.1,103.6" stroke="#111" stroke-width="1" fill="none"/>
<text x="289.7" y="74.9" font-size="8" font-weight="bold" fill="#999">y</text><text x="295.8" y="74.9" font-size="7" font-weight="bold" fill="#999">12</text>
<text x="279.6" y="112.7" font-size="9" font-weight="bold" fill="#333">b</text><text x="285.9" y="111.8" font-size="7" font-weight="bold" fill="#333">4</text>
<path d="M310.8,79 L306.4,83 L306.4,99.6 L302.1,103.6" stroke="#111" stroke-width="1" fill="none"/>
<text x="310.7" y="74.9" font-size="8" font-weight="bold" fill="#999">y</text><text x="316.8" y="74.9" font-size="7" font-weight="bold" fill="#999">11</text>
<text x="300.6" y="112.7" font-size="9" font-weight="bold" fill="#333">b</text><text x="306.9" y="111.8" font-size="7" font-weight="bold" fill="#333">5</text>
<path d="M331.8,79 L327.4,83 L327.4,99.6 L323.1,103.6" stroke="#111" stroke-width="1" fill="none"/>
<text x="331.7" y="74.9" font-size="8" font-weight="bold" fill="#999">y</text><text x="337.8" y="74.9" font-size="7" font-weight="bold" fill="#999">10</text>
<text x="321.6" y="112.7" font-size="9" font-weight="bold" fill="#333">b</text><text x="327.9" y="111.8" font-size="7" font-weight="bold" fill="#333">6</text>
<path d="M352.8,79 L348.4,83 L348.4,99.6 L344.1,103.6" stroke="#111" stroke-width="1" fill="none"/>
<text x="352.7" y="74.9" font-size="8" font-weight="bold" fill="#999">y</text><text x="358.8" y="74.9" font-size="7" font-weight="bold" fill="#999">9</text>
<text x="342.6" y="112.7" font-size="9" font-weight="bold" fill="#333">b</text><text x="348.9" y="111.8" font-size="7" font-weight="bold" fill="#333">7</text>
<path d="M373.8,79 L369.4,83 L369.4,99.6 L365.1,103.6" stroke="#111" stroke-width="1" fill="none"/>
<text x="373.7" y="74.9" font-size="8" font-weight="bold" fill="#999">y</text><text x="379.8" y="74.9" font-size="7" font-weight="bold" fill="#999">8</text>
<text x="363.6" y="112.7" font-size="9" font-weight="bold" fill="#333">b</text><text x="369.9" y="111.8" font-size="7" font-weight="bold" fill="#333">8</text>
<path d="M394.8,79 L390.4,83 L390.4,99.6 L386.1,103.6" stroke="#111" stroke-width="1" fill="none"/>
<text x="394.7" y="74.9" font-size="8" font-weight="bold" fill="#999">y</text><text x="400.8" y="74.9" font-size="7" font-weight="bold" fill="#999">7</text>
<text x="384.6" y="112.7" font-size="9" font-weight="bold" fill="#333">b</text><text x="390.9" y="111.8" font-size="7" font-weight="bold" fill="#333">9</text>
<path d="M415.8,79 L411.4,83 L411.4,99.6 L407.1,103.6" stroke="#111" stroke-width="1" fill="none"/>
<text x="415.7" y="74.9" font-size="8" font-weight="bold" fill="#999">y</text><text x="421.8" y="74.9" font-size="7" font-weight="bold" fill="#999">6</text>
<text x="405.6" y="112.7" font-size="9" font-weight="bold" fill="#333">b</text><text x="411.9" y="111.8" font-size="7" font-weight="bold" fill="#333">10</text>
<path d="M436.8,79 L432.4,83 L432.4,99.6 L428.1,103.6" stroke="#111" stroke-width="1" fill="none"/>
<text x="436.7" y="74.9" font-size="8" font-weight="bold" fill="#999">y</text><text x="442.8" y="74.9" font-size="7" font-weight="bold" fill="#999">5</text>
<text x="426.6" y="112.7" font-size="9" font-weight="bold" fill="#333">b</text><text x="432.9" y="111.8" font-size="7" font-weight="bold" fill="#333">11</text>
<path d="M478.8,79 L474.4,83 L474.4,99.6 L470.1,103.6" stroke="#111" stroke-width="1" fill="none"/>
<text x="478.7" y="74.9" font-size="8" font-weight="bold" fill="#999">y</text><text x="484.8" y="74.9" font-size="7" font-weight="bold" fill="#999">3</text>
<text x="468.6" y="112.7" font-size="9" font-weight="bold" fill="#333">b</text><text x="474.9" y="111.8" font-size="7" font-weight="bold" fill="#333">13</text>
<path d="M499.8,79 L495.4,83 L495.4,99.6 L491.1,103.6" stroke="#111" stroke-width="1" fill="none"/>
<text x="499.7" y="74.9" font-size="8" font-weight="bold" fill="#999">y</text><text x="505.8" y="74.9" font-size="7" font-weight="bold" fill="#999">2</text>
<text x="489.6" y="112.7" font-size="9" font-weight="bold" fill="#333">b</text><text x="495.9" y="111.8" font-size="7" font-weight="bold" fill="#333">14</text>
<path d="M520.8,79 L516.4,83 L516.4,99.6 L512.1,103.6" stroke="#111" stroke-width="1" fill="none"/>
<text x="520.7" y="74.9" font-size="8" font-weight="bold" fill="#999">y</text><text x="526.8" y="74.9" font-size="7" font-weight="bold" fill="#999">1</text>
<text x="510.6" y="112.7" font-size="9" font-weight="bold" fill="#333">b</text><text x="516.9" y="111.8" font-size="7" font-weight="bold" fill="#333">15</text>
</svg></body></html>
